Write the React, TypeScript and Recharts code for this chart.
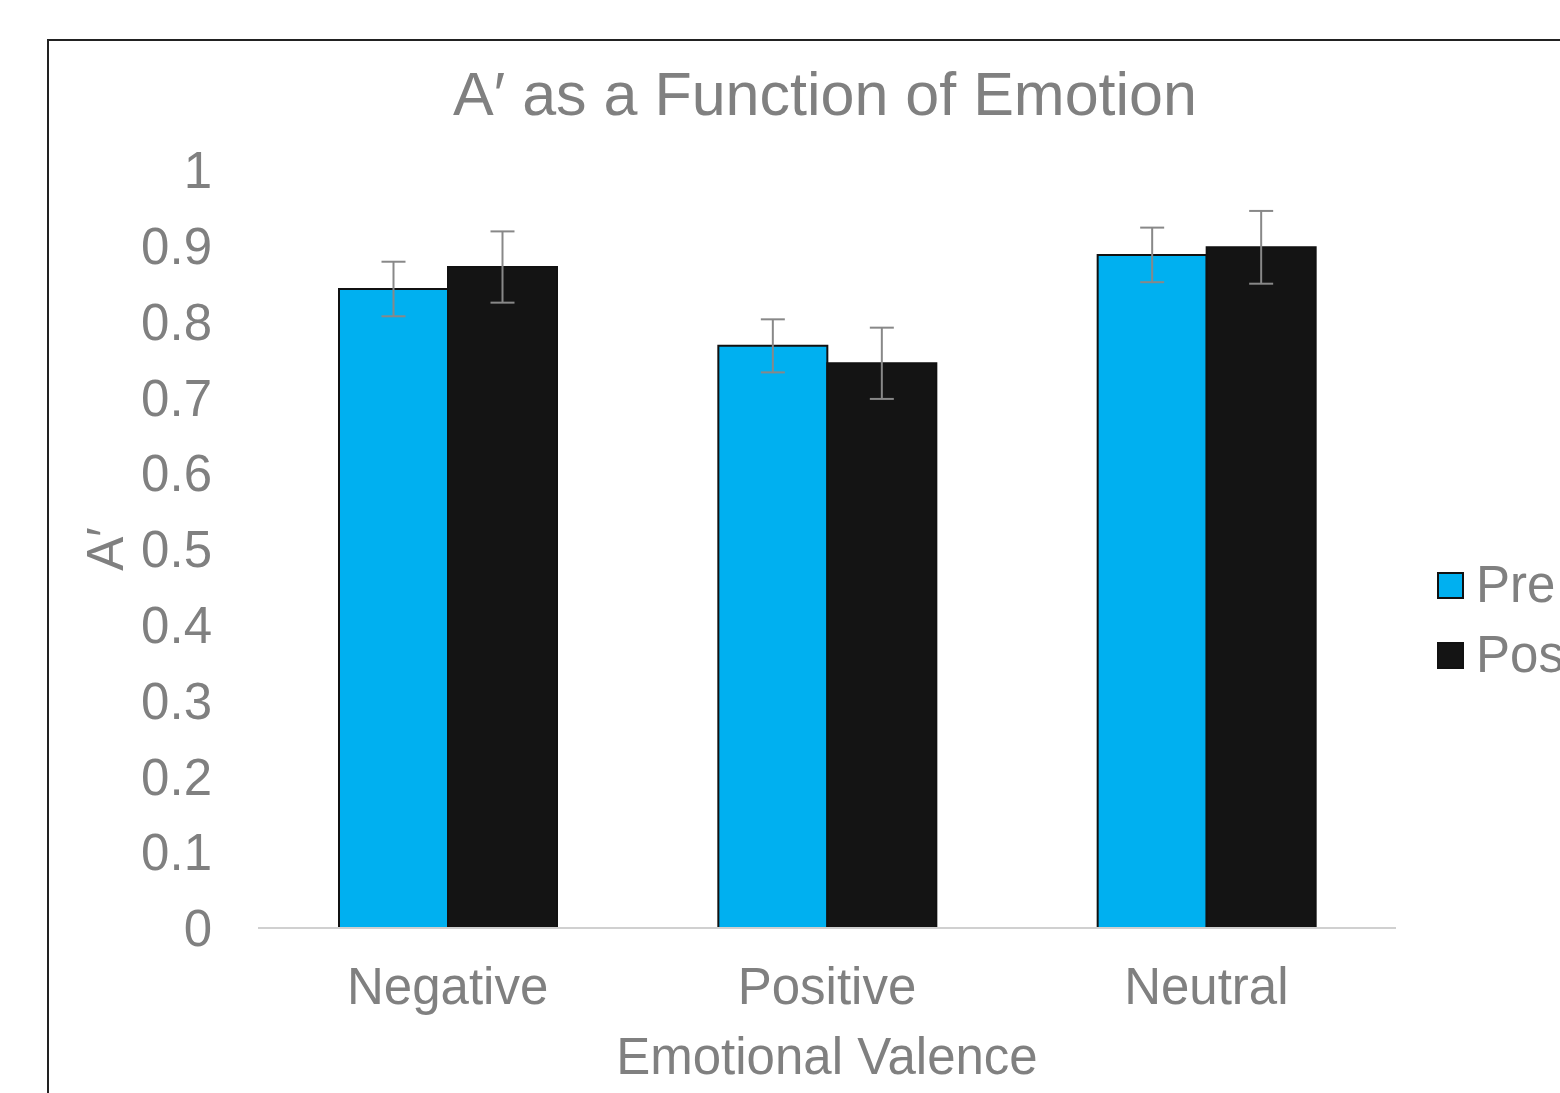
import React from 'react'
import { BarChart, Bar, XAxis, YAxis, ErrorBar, Label } from 'recharts'

const categories = ['Negative', 'Positive', 'Neutral']
const preValues = [0.843, 0.768, 0.888]
const postValues = [0.872, 0.745, 0.898]
const preErrors = [0.036, 0.035, 0.036]
const postErrors = [0.047, 0.047, 0.048]
const yTicks = [0, 0.1, 0.2, 0.3, 0.4, 0.5, 0.6, 0.7, 0.8, 0.9, 1]

const data = categories.map((name, i) => ({
  name,
  pre: preValues[i],
  post: postValues[i],
  preErr: preErrors[i],
  postErr: postErrors[i],
}))

const FONT = '"Liberation Sans", Arial, sans-serif'
const GRAY = '#808080'
const BLUE = '#00B0F0'
const BLACK = '#141414'

function LegendBox() {
  const items = [
    { label: 'Pre', color: BLUE },
    { label: 'Post', color: BLACK },
  ]
  return (
    <div style={{ fontFamily: FONT }}>
      {items.map(item => (
        <div key={item.label} style={{ display: 'flex', alignItems: 'center', height: 70, whiteSpace: 'nowrap' }}>
          <span style={{ display: 'inline-block', width: 23, height: 23, background: item.color, border: '2px solid #111', marginRight: 12 }} />
          <span style={{ fontSize: 51, color: GRAY, lineHeight: '70px' }}>{item.label}</span>
        </div>
      ))}
    </div>
  )
}

export default function App() {
  return (
    <div style={{ position: 'absolute', left: 0, top: 0, width: 1560, height: 1093, overflow: 'hidden', background: '#fff' }}>
      <div style={{ position: 'absolute', left: 47, top: 39, width: 1700, height: 1200, border: '2px solid #222' }} />
      <div style={{ position: 'absolute', left: 0, top: 59, width: 1650, textAlign: 'center', fontFamily: FONT, fontSize: 61, color: GRAY, lineHeight: '70px' }}>
        A′ as a Function of Emotion
      </div>
      <div style={{ position: 'absolute', left: 1437, top: 550, width: 200 }}>
        <LegendBox />
      </div>
      <div style={{ position: 'absolute', left: 0, top: 0 }}>
        <BarChart
          width={1560}
          height={1093}
          data={data}
          margin={{ top: 170, right: 164, left: 0, bottom: 0 }}
          barCategoryGap={81}
          barGap={0}
        >
          <XAxis
            dataKey="name"
            height={165}
            axisLine={{ stroke: '#d0d0d0', strokeWidth: 2 }}
            tickLine={false}
            tickSize={0}
            tickMargin={40}
            tick={{ fontSize: 51, fill: GRAY, fontFamily: FONT }}
          >
            <Label value="Emotional Valence" position="insideTop" offset={110} style={{ fontSize: 51, fill: GRAY, fontFamily: FONT }} />
          </XAxis>
          <YAxis
            width={258}
            domain={[0, 1]}
            ticks={yTicks}
            axisLine={false}
            tickLine={false}
            tickSize={0}
            tickMargin={46}
            interval={0}
            tick={{ fontSize: 51, fill: GRAY, fontFamily: FONT }}
          >
            <Label value="A′" angle={-90} position="center" dx={-24} style={{ fontSize: 51, fill: GRAY, fontFamily: FONT, textAnchor: 'middle' }} />
          </YAxis>
          <Bar dataKey="pre" name="Pre" fill={BLUE} stroke="#111" strokeWidth={2} isAnimationActive={false}>
            <ErrorBar dataKey="preErr" width={12} stroke="#888" strokeWidth={2} isAnimationActive={false} />
          </Bar>
          <Bar dataKey="post" name="Post" fill={BLACK} stroke="#111" strokeWidth={2} isAnimationActive={false}>
            <ErrorBar dataKey="postErr" width={12} stroke="#888" strokeWidth={2} isAnimationActive={false} />
          </Bar>
        </BarChart>
      </div>
    </div>
  )
}
